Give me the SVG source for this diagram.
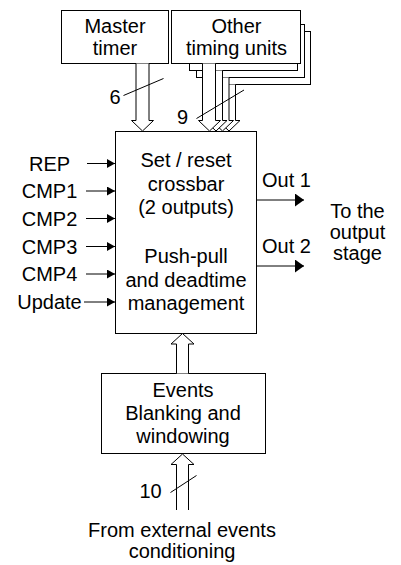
<svg xmlns="http://www.w3.org/2000/svg" width="401" height="565" viewBox="0 0 401 565">
<defs>
<style>
.box{fill:#fff;stroke:#000;stroke-width:1}
.bus{fill:#fff;stroke:#000;stroke-width:1;stroke-linejoin:miter}
.ln{fill:none;stroke:#000;stroke-width:1}
.t{font-family:"Liberation Sans",Arial,sans-serif;font-size:20px;fill:#000}
.c{text-anchor:middle}
</style>
<marker id="ah" markerWidth="9" markerHeight="9" refX="8" refY="4.5" orient="auto" markerUnits="userSpaceOnUse">
<path d="M0,0 L8,4.5 L0,9 Z" fill="#000"/>
</marker>
<marker id="ahb" markerWidth="10" markerHeight="13" refX="9" refY="6.5" orient="auto" markerUnits="userSpaceOnUse">
<path d="M0,0 L9,6.5 L0,13 Z" fill="#000"/>
</marker>
</defs>
<rect width="401" height="565" fill="#fff"/>

<g id="master-timer">
<rect class="box" x="61.5" y="10.5" width="107" height="53"/>
<text class="t c" x="115" y="33">Master</text>
<text class="t c" x="115" y="55">timer</text>
</g>

<g id="other-timing-units">
<rect class="box" x="203.5" y="31.5" width="107" height="53"/>
<path class="bus" d="M222.5,84.5 V120.5 H218 L229,131 L240,120.5 H235.5 V84.5"/>
<rect class="box" x="196.5" y="24.5" width="108" height="53"/>
<path class="bus" d="M216,77.5 V120.5 H211.5 L222.5,131 L233.5,120.5 H229 V77.5"/>
<rect class="box" x="189.5" y="17.5" width="108" height="53"/>
<path class="bus" d="M209.5,70.5 V120.5 H205 L216,131 L227,120.5 H222.5 V70.5"/>
<rect class="box" x="171.5" y="10.5" width="129" height="53"/>
<text class="t c" x="236.5" y="33">Other</text>
<text class="t c" x="236.5" y="55">timing units</text>
</g>

<g id="crossbar">
<rect class="box" x="115.5" y="131.5" width="141" height="202"/>
<text class="t c" x="186" y="167">Set / reset</text>
<text class="t c" x="186" y="190.5">crossbar</text>
<text class="t c" x="186" y="214">(2 outputs)</text>
<text class="t c" x="186" y="263">Push-pull</text>
<text class="t c" x="186" y="286.5">and deadtime</text>
<text class="t c" x="186" y="310">management</text>
</g>

<g id="events">
<rect class="box" x="101.5" y="373.5" width="164" height="80"/>
<text class="t c" x="183" y="397">Events</text>
<text class="t c" x="183" y="420">Blanking and</text>
<text class="t c" x="183" y="443">windowing</text>
</g>

<g id="inputs">
<text class="t c" x="49.5" y="170.5">REP</text>
<text class="t c" x="49.5" y="198">CMP1</text>
<text class="t c" x="49.5" y="225.5">CMP2</text>
<text class="t c" x="49.5" y="253.5">CMP3</text>
<text class="t c" x="49.5" y="281">CMP4</text>
<text class="t c" x="49.5" y="309">Update</text>
</g>

<g id="outputs">
<text class="t" x="262" y="186.5">Out 1</text>
<text class="t" x="262" y="253">Out 2</text>
<text class="t c" x="357.5" y="218">To the</text>
<text class="t c" x="357.5" y="239">output</text>
<text class="t c" x="357.5" y="260">stage</text>
</g>

<g id="external">
<text class="t c" x="182" y="537">From external events</text>
<text class="t c" x="182" y="558">conditioning</text>
</g>

<g id="connectors">
<path class="bus" d="M202.5,63.5 V120.5 H198.5 L209.5,131 L220.5,120.5 H215.5 V63.5"/>
<path class="bus" d="M136,63.5 V120.5 H131.5 L142.5,131 L153.5,120.5 H149 V63.5"/>
<line class="ln" x1="123.5" y1="95.5" x2="163.5" y2="78.5"/>
<text class="t c" x="115" y="104">6</text>
<line class="ln" x1="196.5" y1="118.5" x2="244" y2="90"/>
<text class="t c" x="182.5" y="124">9</text>

<line class="ln" x1="87" y1="163.5" x2="115" y2="163.5" marker-end="url(#ah)"/>
<line class="ln" x1="86" y1="191" x2="115" y2="191" marker-end="url(#ah)"/>
<line class="ln" x1="86" y1="218.5" x2="115" y2="218.5" marker-end="url(#ah)"/>
<line class="ln" x1="86" y1="246.5" x2="115" y2="246.5" marker-end="url(#ah)"/>
<line class="ln" x1="86" y1="274" x2="115" y2="274" marker-end="url(#ah)"/>
<line class="ln" x1="84" y1="302" x2="115" y2="302" marker-end="url(#ah)"/>

<line class="ln" x1="257" y1="200" x2="304" y2="200" marker-end="url(#ahb)"/>
<line class="ln" x1="257" y1="266" x2="304" y2="266" marker-end="url(#ahb)"/>

<path class="bus" d="M176.5,373.5 V344 H171 L182.5,333.5 L194,344 H188.5 V373.5"/>
<path class="bus" d="M176.5,510 V464.5 H171 L182.5,454 L194,464.5 H188.5 V510"/>
<line class="ln" x1="170.5" y1="492.5" x2="196.5" y2="475.5"/>
<text class="t c" x="150.5" y="498">10</text>
</g>
</svg>
